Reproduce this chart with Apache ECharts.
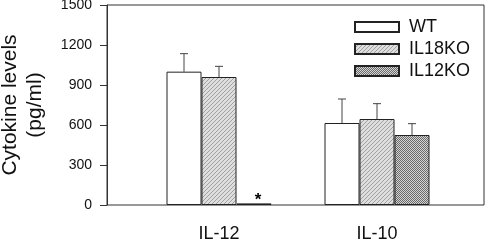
<!DOCTYPE html>
<html>
<head>
<meta charset="utf-8">
<script src="https://cdn.jsdelivr.net/npm/echarts@6/dist/echarts.min.js"></script>
<style>
  html, body { margin: 0; padding: 0; background: #fff; }
  #container { width: 490px; height: 242px; }
</style>
</head>
<body>
<div id="container"></div>
<script>
// data
var categories = ['IL-12', 'IL-10'];
var seriesNames = ['WT', 'IL18KO', 'IL12KO'];
var wtMean = [1000, 615];
var wtErr = [135, 180];
var il18Mean = [960, 645];
var il18Err = [80, 115];
var il12Mean = [12, 525];
var il12Err = [0, 85];
var yTicks = [0, 300, 600, 900, 1200, 1500];

function makePattern(kind) {
  var c = document.createElement('canvas');
  var ctx = c.getContext('2d');
  if (kind === 'diag') {
    c.width = 4; c.height = 4;
    ctx.fillStyle = '#dedede';
    ctx.fillRect(0, 0, 4, 4);
    ctx.fillStyle = '#a0a0a0';
    for (var i = 0; i < 4; i++) ctx.fillRect(i, 3 - i, 1, 1);
  } else {
    c.width = 2; c.height = 2;
    ctx.fillStyle = '#d4d4d4';
    ctx.fillRect(0, 0, 2, 2);
    ctx.fillStyle = '#6a6a6a';
    ctx.fillRect(0, 0, 1, 1);
    ctx.fillRect(1, 1, 1, 1);
  }
  return { image: c, repeat: 'repeat' };
}

var fills = ['#ffffff', makePattern('diag'), makePattern('check')];
var means = [wtMean, il18Mean, il12Mean];
var errs = [wtErr, il18Err, il12Err];
var barW = 35;

var myChart = echarts.init(document.getElementById('container'));

var series = [];
seriesNames.forEach(function (name, s) {
  series.push({
    name: name,
    type: 'bar',
    xAxisIndex: 1,
    yAxisIndex: 1,
    barWidth: barW,
    barGap: '0%',
    itemStyle: { color: fills[s], borderColor: '#222', borderWidth: 1 },
    data: means[s].slice()
  });
});

// upper error whiskers
var errData = [];
for (var s = 0; s < 3; s++) {
  for (var c = 0; c < categories.length; c++) {
    errData.push([c, means[s][c], means[s][c] + errs[s][c], s]);
  }
}
series.push({
  type: 'custom',
  xAxisIndex: 1,
  yAxisIndex: 1,
  silent: true,
  z: 1,
  data: errData,
  renderItem: function (params, api) {
    var c = api.value(0), s = api.value(3);
    var p0 = api.coord([c, api.value(1)]);
    var p1 = api.coord([c, api.value(2)]);
    var x = p0[0] + (s - 1) * barW;
    var children = [];
    if (api.value(2) > api.value(1)) {
      children.push({ type: 'line', shape: { x1: x, y1: p0[1], x2: x, y2: p1[1] }, style: { stroke: '#444', lineWidth: 1 } });
      children.push({ type: 'line', shape: { x1: x - 4, y1: p1[1], x2: x + 4, y2: p1[1] }, style: { stroke: '#444', lineWidth: 1 } });
    }
    if (s === 2 && c === 0) {
      // significance mark
      children.push({ type: 'text', style: { text: '*', x: x + 4, y: p0[1] + 5, fontSize: 17, fontWeight: 'bold', fontFamily: 'Liberation Sans', align: 'center', verticalAlign: 'bottom', fill: '#000' } });
    }
    return { type: 'group', children: children };
  }
});

var option = {
  animation: false,
  backgroundColor: '#fff',
  textStyle: { fontFamily: 'Liberation Sans' },
  grid: [
    { left: 107, right: 6, top: 5, bottom: 37, outerBoundsMode: 'none', containLabel: false, show: true, borderColor: '#333', borderWidth: 1, backgroundColor: 'transparent' },
    { left: 140, right: 34, top: 5, bottom: 37, outerBoundsMode: 'none', containLabel: false }
  ],
  legend: {
    orient: 'vertical',
    left: 349,
    top: 13,
    itemWidth: 44,
    itemHeight: 10,
    itemGap: 4,
    icon: 'rect',
    data: seriesNames,
    textStyle: { fontSize: 18, color: '#111', padding: [0, 0, 0, 5] }
  },
  xAxis: [
    { gridIndex: 0, type: 'value', min: 0, max: 1, show: false },
    {
      gridIndex: 1, type: 'category', data: categories,
      axisLine: { show: false }, axisTick: { show: false },
      axisLabel: { fontSize: 18, color: '#111', margin: 20 }
    }
  ],
  yAxis: [
    {
      gridIndex: 0, type: 'value', min: 0, max: 1500, interval: 300,
      name: 'Cytokine levels\n(pg/ml)',
      nameLocation: 'middle', nameGap: 59,
      nameTextStyle: { fontSize: 21, lineHeight: 25, color: '#111' },
      axisLine: { show: true, lineStyle: { color: '#333' } },
      axisTick: { show: true, length: 7, lineStyle: { color: '#333' } },
      axisLabel: {
        fontSize: 14, color: '#111', margin: 15,
        formatter: function (v) { return yTicks.indexOf(v) >= 0 ? String(v) : ''; }
      },
      splitLine: { show: false }
    },
    { gridIndex: 1, type: 'value', min: 0, max: 1500, show: false }
  ],
  series: series
};

myChart.setOption(option);
</script>
</body>
</html>
